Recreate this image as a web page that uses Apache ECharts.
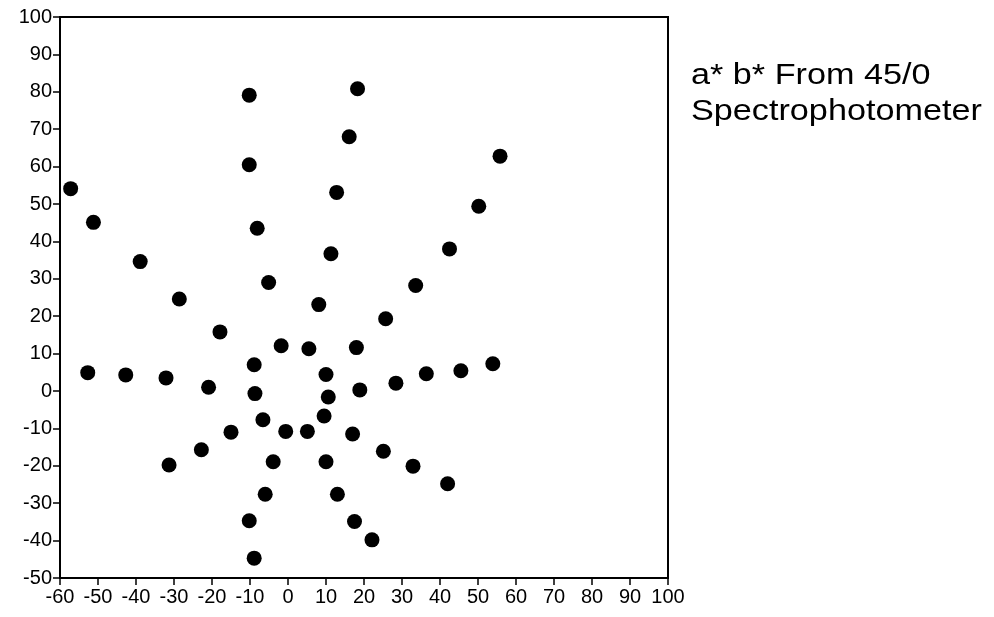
<!DOCTYPE html>
<html>
<head>
<meta charset="utf-8">
<title>a* b* From 45/0 Spectrophotometer</title>
<script src="https://cdn.jsdelivr.net/npm/echarts@6/dist/echarts.min.js"></script>
<style>
  html, body { margin: 0; padding: 0; background: #fff; }
  #chart { width: 994px; height: 617px; }
</style>
</head>
<body>
<div id="chart"></div>
<script>
// Measured colour coordinates (a*, b*) of the sample set
const aStar = [
  -10.2, 18.3, 16.1, -10.2, 55.8, -57.2, 12.8, 50.2, -51.2, -8.1,
  -38.9, 11.3, 42.5, -5.1, -28.6, 8.1, 33.6, 25.7, -17.9, -1.8,
  5.5, 18.0, -8.9, 53.9, -52.7, -42.7, -32.1, 10.0, 45.5, 36.4,
  -20.9, -8.7, 10.6, 28.4, 18.9, 9.5, -6.6, -15.0, -0.6, 5.1,
  17.0, -22.8, -31.3, -3.9, 10.0, 25.1, 32.9, 42.0, -6.0, 13.0,
  -10.2, 17.5, 22.1, -8.9
];
const bStar = [
  79.1, 80.8, 68.0, 60.5, 62.8, 54.1, 53.1, 49.4, 45.1, 43.5,
  34.6, 36.7, 38.0, 29.0, 24.6, 23.1, 28.2, 19.3, 15.8, 12.1,
  11.3, 11.6, 7.0, 7.3, 4.9, 4.3, 3.5, 4.4, 5.4, 4.6,
  1.0, -0.7, -1.6, 2.1, 0.3, -6.7, -7.7, -11.0, -10.8, -10.8,
  -11.5, -15.7, -19.8, -18.9, -18.9, -16.1, -20.1, -24.8, -27.6, -27.6,
  -34.7, -34.9, -39.8, -44.7
];

const xRange = { min: -60, max: 100, step: 10 };
const yRange = { min: -50, max: 100, step: 10 };
const titleLines = ['a* b* From 45/0', 'Spectrophotometer'];

const points = aStar.map((a, i) => [a, bStar[i]]);

const font = '"Liberation Sans", Arial, Helvetica, sans-serif';
const ink = '#000';

function axisStyle(range, labelMargin) {
  return {
    type: 'value',
    min: range.min,
    max: range.max,
    interval: range.step,
    splitLine: { show: false },
    axisLine: { show: true, onZero: false, lineStyle: { color: ink, width: 2 } },
    axisTick: { show: true, inside: false, length: 7, lineStyle: { color: ink, width: 1.5 } },
    axisLabel: { color: ink, fontSize: 20, fontFamily: font, margin: labelMargin }
  };
}

const chart = echarts.init(document.getElementById('chart'), null, { renderer: 'canvas' });
chart.setOption({
  animation: false,
  backgroundColor: '#fff',
  grid: {
    left: 60, right: 326, top: 17, bottom: 39,
    show: true, borderColor: ink, borderWidth: 2, backgroundColor: 'transparent'
  },
  xAxis: axisStyle(xRange, 9),
  yAxis: axisStyle(yRange, 8),
  series: [{
    type: 'scatter',
    data: points,
    symbol: 'circle',
    symbolSize: 15,
    itemStyle: { color: ink, opacity: 1 }
  }],
  graphic: titleLines.map((line, i) => ({
    type: 'text',
    left: 691,
    top: 61 + i * 36,
    scaleX: 1.14,
    style: {
      text: line,
      fill: ink,
      font: '30px ' + font
    }
  }))
});
</script>
</body>
</html>
